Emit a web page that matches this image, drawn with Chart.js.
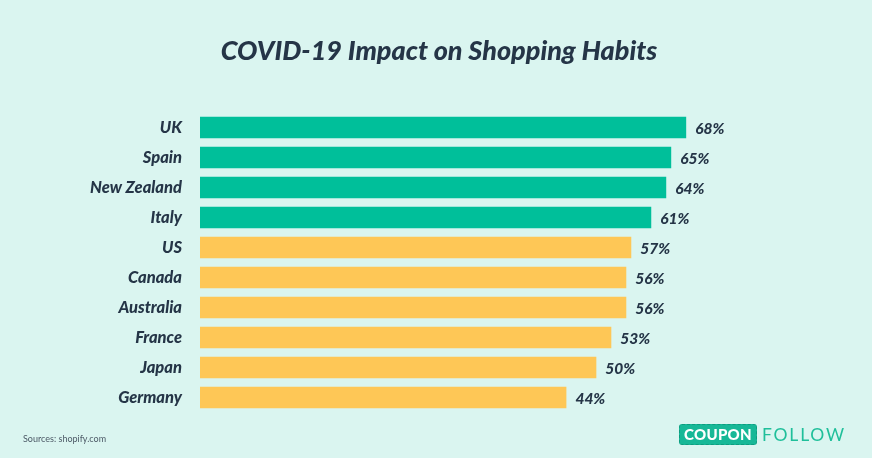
<!DOCTYPE html>
<html>
<head>
<meta charset="utf-8">
<script src="https://cdn.jsdelivr.net/npm/chart.js@4"></script>
<style>
  html, body { margin: 0; padding: 0; }
  body { width: 872px; height: 458px; background: #daf5f0; position: relative; overflow: hidden; font-family: Lato, sans-serif; }
  #wrap { position: absolute; left: 0; top: 0; width: 872px; height: 458px; }
  .title { position: absolute; left: 0; width: 878px; top: 31px; text-align: center; font-size: 27px; font-weight: 900; font-style: italic; color: #253547; line-height: 38px; }
  .source { position: absolute; left: 23px; top: 433px; font-size: 9px; color: #4c5966; }
  .logo { position: absolute; left: 679px; top: 424px; height: 21px; display: flex; align-items: center; }
  .logo .box { background: #17b897; color: #fff; font-weight: 900; font-size: 15px; padding: 0 4px; height: 19px; line-height: 19px; border: 1px dashed #0e9c7f; border-radius: 3px; letter-spacing: 0.3px; }
  .logo .txt { color: #1fbf9a; font-size: 17.5px; margin-left: 5px; letter-spacing: 1.8px; }
</style>
</head>
<body>
<div id="wrap"><canvas id="chart"></canvas></div>
<div class="title">COVID-19 Impact on Shopping Habits</div>
<div class="source">Sources: shopify.com</div>
<div class="logo"><span class="box">COUPON</span><span class="txt">FOLLOW</span></div>
<script>
(function () {
    "use strict";

    // Data
    const countries = ["UK", "Spain", "New Zealand", "Italy", "US", "Canada", "Australia", "France", "Japan", "Germany"];
    const shares = [68, 65, 64, 61, 57, 56, 56, 53, 50, 44];
    const groups = ["green", "green", "green", "green", "yellow", "yellow", "yellow", "yellow", "yellow", "yellow"];

    const palette = { green: "#00bf9a", yellow: "#fec756" };
    const textColor = "#253547";
    const axisMin = -29.4;
    const axisMax = 90.8;

    // value labels at bar ends
    const valueLabels = {
        id: "valueLabels",
        afterDatasetsDraw(chart) {
            const ctx = chart.ctx;
            const meta = chart.getDatasetMeta(0);
            ctx.save();
            ctx.font = "italic 900 15.5px Lato";
            ctx.fillStyle = textColor;
            ctx.textBaseline = "middle";
            ctx.textAlign = "left";
            meta.data.forEach((bar, i) => {
                ctx.fillText(shares[i] + "%", bar.x + 9, bar.y + 1);
            });
            ctx.restore();
        },
    };

    const ctx = document.getElementById("chart").getContext("2d");

    new Chart(ctx, {
        type: "bar",
        data: {
            labels: countries,
            datasets: [
                {
                    data: shares,
                    base: axisMin,
                    backgroundColor: groups.map((g) => palette[g]),
                    borderWidth: 0,
                    barPercentage: 0.72,
                    categoryPercentage: 1,
                },
            ],
        },
        options: {
            indexAxis: "y",
            responsive: true,
            maintainAspectRatio: false,
            animation: false,
            devicePixelRatio: 1,
            layout: {
                padding: { top: 112.5, right: 72, bottom: 45.5, left: 0 },
            },
            plugins: {
                legend: { display: false },
                tooltip: { enabled: false },
            },
            scales: {
                x: {
                    display: false,
                    min: axisMin,
                    max: axisMax,
                },
                y: {
                    afterFit(scale) {
                        scale.width = 200;
                    },
                    grid: { display: false, drawTicks: false },
                    border: { display: false },
                    ticks: {
                        padding: 18,
                        color: textColor,
                        font: { family: "Lato", size: 16.5, weight: "900", style: "italic" },
                    },
                },
            },
        },
        plugins: [valueLabels],
    });
})();
</script>
</body>
</html>
